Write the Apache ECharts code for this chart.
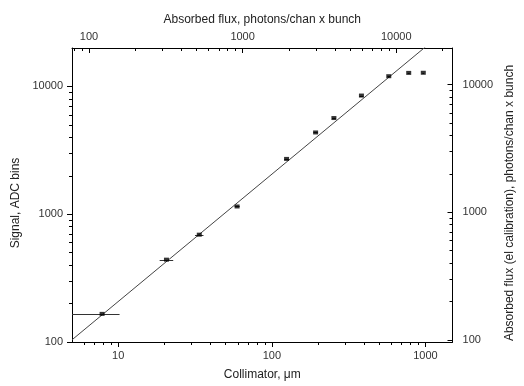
<!DOCTYPE html>
<html><head><meta charset="utf-8">
<script src="https://cdn.jsdelivr.net/npm/echarts@6/dist/echarts.min.js"></script>
<style>html,body{margin:0;padding:0;background:#fff}#c{width:524px;height:386px}</style>
</head><body><div id="c"></div>
<script>
// ---- data ----
const collimator     = [7.85, 20.6, 33.7, 59.4, 124.7, 192.7, 253.5, 383, 577, 778, 968];
const signal         = [166, 441, 692, 1150, 2710, 4365, 5660, 8490, 12030, 12770, 12800];
const collimatorLow  = [4.5, 18.6, 31.6, 57.2, 120.5, 186.5, 246.5, 372, 565, 765, 955];
const collimatorHigh = [10.2, 22.8, 35.9, 61.7, 129, 199, 261, 394, 589, 791, 981];
const fitX = [5, 1000];
const fitY = [104, 20400];
const bottomTicks = [10, 100, 1000];
const topTicks    = [100, 1000, 10000];
const leftTicks   = [100, 1000, 10000];
const rightTicks  = [100, 1000, 10000];
const bottomRange = [5, 1500];
const topRange    = [77.5, 23250];
const leftRange   = [100, 20000];
const rightRange  = [96.5, 19300];

const FONT = 'Liberation Sans, Arial, sans-serif';
function minors(range) {
  const out = [];
  for (let e = -1; e < 6; e++) for (let m = 2; m <= 9; m++) {
    const v = m * Math.pow(10, e);
    if (v > range[0] * 1.0001 && v < range[1] * 0.9999) out.push(v);
  }
  return out;
}
const fmt = v => String(Math.round(v));

function majorAxis(range, pos, ticks, inside, labelMargin, name, nameGap, namePad) {
  return {
    type: 'log', logBase: 10, min: range[0], max: range[1], position: pos,
    splitLine: { show: false },
    axisLine: { show: true, lineStyle: { color: '#000', width: 1 } },
    axisTick: { show: true, inside: inside, length: 5, customValues: ticks, lineStyle: { color: '#000', width: 1 } },
    axisLabel: { show: true, customValues: ticks, formatter: fmt, color: '#333', fontSize: 11, fontFamily: FONT, margin: labelMargin },
    name: name, nameLocation: 'middle', nameGap: nameGap,
    nameTextStyle: { fontSize: 12, color: '#222', fontFamily: FONT, padding: namePad || 0 }
  };
}
function minorAxis(range, pos, inside) {
  return {
    type: 'log', logBase: 10, min: range[0], max: range[1], position: pos,
    splitLine: { show: false },
    axisLine: { show: false },
    axisTick: { show: true, inside: inside, length: 3, customValues: minors(range), lineStyle: { color: '#000', width: 1 } },
    axisLabel: { show: false }
  };
}

const chart = echarts.init(document.getElementById('c'), null, { renderer: 'canvas' });
chart.setOption({
  animation: false,
  backgroundColor: '#fff',
  grid: { left: 72, right: 59, top: 48, bottom: 42, containLabel: false },
  xAxis: [
    majorAxis(bottomRange, 'bottom', bottomTicks, false, 8, 'Collimator, \u03bcm', 27),
    minorAxis(bottomRange, 'bottom', false),
    majorAxis(topRange, 'top', topTicks, true, 6, 'Absorbed flux, photons/chan x bunch', 22),
    minorAxis(topRange, 'top', true)
  ],
  yAxis: [
    majorAxis(leftRange, 'left', leftTicks, false, 9, 'Signal, ADC bins', 49, [0, 16, 0, 0]),
    minorAxis(leftRange, 'left', false),
    majorAxis(rightRange, 'right', rightTicks, true, 10, 'Absorbed flux (el calibration), photons/chan x bunch', 46, [0, 16, 0, 0]),
    minorAxis(rightRange, 'right', true)
  ],
  series: [
    {
      type: 'line', xAxisIndex: 0, yAxisIndex: 0, silent: true,
      data: fitX.map((x, i) => [x, fitY[i]]),
      showSymbol: false, symbol: 'none',
      lineStyle: { color: '#444', width: 1 }, clip: true, z: 1
    },
    {
      type: 'custom', xAxisIndex: 0, yAxisIndex: 0, silent: true, clip: true, z: 2,
      data: collimator.map((x, i) => [collimatorLow[i], collimatorHigh[i], signal[i]]),
      encode: { x: [0, 1], y: 2 },
      renderItem: (params, api) => {
        const a = api.coord([api.value(0), api.value(2)]);
        const b = api.coord([api.value(1), api.value(2)]);
        const y = Math.round(a[1]) + 0.5;
        return { type: 'line', shape: { x1: a[0], y1: y, x2: b[0], y2: y },
                 style: { stroke: '#333', lineWidth: 1 } };
      }
    },
    {
      type: 'scatter', xAxisIndex: 0, yAxisIndex: 0, silent: true, z: 3,
      data: collimator.map((x, i) => [x, signal[i]]),
      symbol: 'rect', symbolSize: [5, 4],
      itemStyle: { color: '#000' }
    }
  ]
});
</script></body></html>
